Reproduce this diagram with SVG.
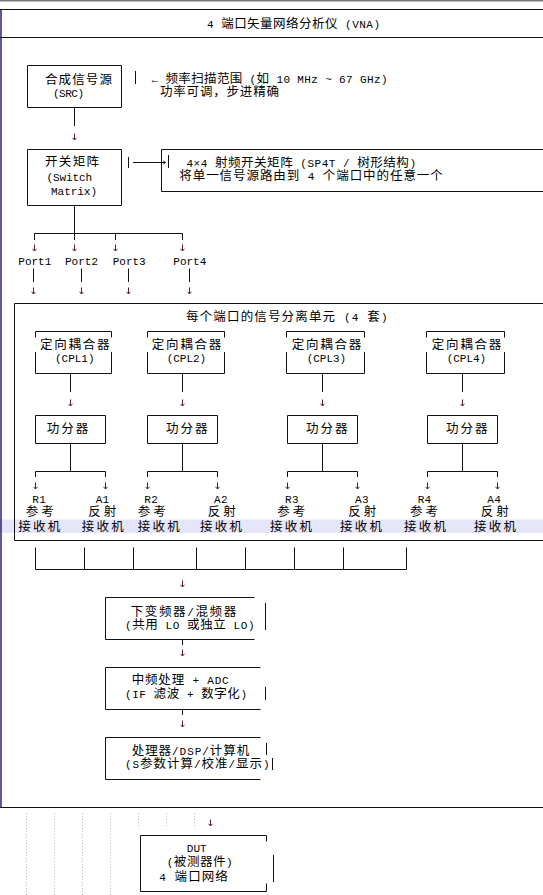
<svg xmlns="http://www.w3.org/2000/svg" width="543" height="895" viewBox="0 0 543 895">
<defs>
<style>
text{font-family:"Liberation Mono","Noto Sans CJK SC",monospace;font-size:11px;fill:#000}
.c{font-family:"Noto Sans CJK SC",sans-serif;font-size:12.5px}
.ln{stroke:#111;stroke-width:1;fill:none}
.ar{stroke:#5a1838;stroke-width:1;fill:none}
.guide{stroke:#bdbdbd;stroke-width:1;stroke-dasharray:1 2;fill:none}
</style>
<marker id="ah" markerUnits="userSpaceOnUse" markerWidth="6" markerHeight="6" refX="3" refY="3" orient="auto"><path d="M0.8,1 L3,3 L0.8,5" fill="none" stroke="#5a1838" stroke-width="1"/></marker>
<marker id="ahk" markerUnits="userSpaceOnUse" markerWidth="6" markerHeight="6" refX="3" refY="3" orient="auto"><path d="M0.8,1.5 L3,3 L0.8,4.5" fill="none" stroke="#111" stroke-width="1"/></marker>
</defs>
<rect x="0" y="0" width="543" height="1.5" fill="#7a7a7a"/>
<rect x="0" y="519.5" width="543" height="13.5" fill="#e6e6fa"/>
<g id="frame">
<path class="ln" d="M0,9.5 H543 M0,37.5 H543 M0,807.5 H543"/>
<path d="M1,9.5 V807.5" stroke="#2a1f80" stroke-width="1.5" fill="none"/>
<text x="207" y="27.5" textLength="173" lengthAdjust="spacing">4 <tspan class="c">端口矢量网络分析仪</tspan> (VNA)</text>
</g>
<g id="src">
<path class="ln" d="M27.5,65.5 H121.5 V107.5 H27.5 Z"/>
<text class="c" x="45" y="83.5" textLength="67" lengthAdjust="spacing">合成信号源</text>
<text x="53" y="96.5" textLength="31" lengthAdjust="spacing">(SRC)</text>
</g>
<g id="src-note">
<path class="ln" d="M135.5,71 V84"/>
<text x="151.5" y="83.3" textLength="236" lengthAdjust="spacing">← <tspan class="c">频率扫描范围</tspan> (<tspan class="c">如</tspan> 10 MHz ~ 67 GHz)</text>
<text class="c" x="160" y="96.3" textLength="119" lengthAdjust="spacing">功率可调，步进精确</text>
</g>
<g id="switch">
<path class="ln" d="M27.5,149.5 H121.5 V205.5 H27.5 Z"/>
<text class="c" x="45" y="166" textLength="54" lengthAdjust="spacing">开关矩阵</text>
<text x="46.5" y="180.5" textLength="45.5" lengthAdjust="spacing">(Switch</text>
<text x="51" y="194.5" textLength="46" lengthAdjust="spacing">Matrix)</text>
</g>
<g id="switch-note">
<path class="ln" d="M543,149.5 H161.5 V191.5 H543"/>
<path class="ln" d="M168.5,155 V168"/>
<text x="186.5" y="166.7" textLength="229.5" lengthAdjust="spacing">4×4 <tspan class="c">射频开关矩阵</tspan> (SP4T / <tspan class="c">树形结构</tspan>)</text>
<text x="179.3" y="180.2" textLength="263.5" lengthAdjust="spacing"><tspan class="c">将单一信号源路由到</tspan> 4 <tspan class="c">个端口中的任意一个</tspan></text>
</g>
<g id="ports">
<text x="18.3" y="264.7" textLength="33" lengthAdjust="spacing">Port1</text>
<text x="65" y="264.7" textLength="33" lengthAdjust="spacing">Port2</text>
<text x="112.7" y="264.7" textLength="33" lengthAdjust="spacing">Port3</text>
<text x="173.3" y="264.7" textLength="33" lengthAdjust="spacing">Port4</text>
</g>
<g id="sep-unit">
<path class="ln" d="M543,303.5 H14.5 V540.5 H543"/>
<text x="186" y="321" textLength="201.5" lengthAdjust="spacing"><tspan class="c">每个端口的信号分离单元</tspan> (4 <tspan class="c">套</tspan>)</text>
</g>
<g id="cpl1">
<path class="ln" d="M35.5,337.5 V331.5 H111.5 V337.5 M35.5,352 V373.5 H111.5 V352"/>
<text class="c" x="40" y="348.8" textLength="69.5" lengthAdjust="spacing">定向耦合器</text>
<text x="55" y="362.3" textLength="39.5" lengthAdjust="spacing">(CPL1)</text>
</g>
<g id="cpl2">
<path class="ln" d="M147.5,337.5 V331.5 H224.5 V337.5 M147.5,352 V373.5 H224.5 V352"/>
<text class="c" x="151.7" y="348.8" textLength="69.5" lengthAdjust="spacing">定向耦合器</text>
<text x="166.7" y="362.3" textLength="39.5" lengthAdjust="spacing">(CPL2)</text>
</g>
<g id="cpl3">
<path class="ln" d="M286.5,337.5 V331.5 H364.5 V337.5 M286.5,352 V373.5 H364.5 V352"/>
<text class="c" x="291.7" y="348.8" textLength="69.5" lengthAdjust="spacing">定向耦合器</text>
<text x="306.7" y="362.3" textLength="39.5" lengthAdjust="spacing">(CPL3)</text>
</g>
<g id="cpl4">
<path class="ln" d="M426.5,337.5 V331.5 H504.5 V337.5 M426.5,352 V373.5 H504.5 V352"/>
<text class="c" x="431.7" y="348.8" textLength="69.5" lengthAdjust="spacing">定向耦合器</text>
<text x="446.7" y="362.3" textLength="39.5" lengthAdjust="spacing">(CPL4)</text>
</g>
<g id="pd1">
<path class="ln" d="M35.5,415.5 H105.5 V443.5 H35.5 Z"/>
<text class="c" x="46.7" y="432.8" textLength="41.5" lengthAdjust="spacing">功分器</text>
</g>
<g id="pd2">
<path class="ln" d="M147.5,415.5 H217.5 V443.5 H147.5 Z"/>
<text class="c" x="166" y="432.8" textLength="41.5" lengthAdjust="spacing">功分器</text>
</g>
<g id="pd3">
<path class="ln" d="M287.5,415.5 H357.5 V443.5 H287.5 Z"/>
<text class="c" x="306" y="432.8" textLength="41.5" lengthAdjust="spacing">功分器</text>
</g>
<g id="pd4">
<path class="ln" d="M427.5,415.5 H497.5 V443.5 H427.5 Z"/>
<text class="c" x="446" y="432.8" textLength="41.5" lengthAdjust="spacing">功分器</text>
</g>
<g id="receivers">
<text x="32.3" y="502.7" textLength="13.5" lengthAdjust="spacing">R1</text>
<text x="95.7" y="502.7" textLength="13.5" lengthAdjust="spacing">A1</text>
<text x="144.3" y="502.7" textLength="13.5" lengthAdjust="spacing">R2</text>
<text x="214" y="502.7" textLength="13.5" lengthAdjust="spacing">A2</text>
<text x="285" y="502.7" textLength="13.5" lengthAdjust="spacing">R3</text>
<text x="355" y="502.7" textLength="13.5" lengthAdjust="spacing">A3</text>
<text x="417.7" y="502.7" textLength="13.5" lengthAdjust="spacing">R4</text>
<text x="487.3" y="502.7" textLength="13.5" lengthAdjust="spacing">A4</text>
<text class="c" x="25.7" y="516.2" textLength="28" lengthAdjust="spacing">参考</text>
<text class="c" x="88.3" y="516.2" textLength="28" lengthAdjust="spacing">反射</text>
<text class="c" x="137.7" y="516.2" textLength="28" lengthAdjust="spacing">参考</text>
<text class="c" x="207.7" y="516.2" textLength="28" lengthAdjust="spacing">反射</text>
<text class="c" x="277.3" y="516.2" textLength="28" lengthAdjust="spacing">参考</text>
<text class="c" x="348.3" y="516.2" textLength="28" lengthAdjust="spacing">反射</text>
<text class="c" x="410" y="516.2" textLength="28" lengthAdjust="spacing">参考</text>
<text class="c" x="480.7" y="516.2" textLength="28" lengthAdjust="spacing">反射</text>
<text class="c" x="18.3" y="530.5" textLength="42" lengthAdjust="spacing">接收机</text>
<text class="c" x="81.7" y="530.5" textLength="42" lengthAdjust="spacing">接收机</text>
<text class="c" x="137.7" y="530.5" textLength="42" lengthAdjust="spacing">接收机</text>
<text class="c" x="200" y="530.5" textLength="42" lengthAdjust="spacing">接收机</text>
<text class="c" x="270" y="530.5" textLength="42" lengthAdjust="spacing">接收机</text>
<text class="c" x="340" y="530.5" textLength="42" lengthAdjust="spacing">接收机</text>
<text class="c" x="404" y="530.5" textLength="42" lengthAdjust="spacing">接收机</text>
<text class="c" x="474" y="530.5" textLength="42" lengthAdjust="spacing">接收机</text>
</g>
<g id="downconv">
<path class="ln" d="M254.5,597.5 H105.5 V639.5 H254.5 M265.5,603 V630"/>
<text x="130.7" y="615.5" textLength="105.5" lengthAdjust="spacing"><tspan class="c">下变频器</tspan>/<tspan class="c">混频器</tspan></text>
<text x="125" y="628.6" textLength="129.5" lengthAdjust="spacing">(<tspan class="c">共用</tspan> LO <tspan class="c">或独立</tspan> LO)</text>
</g>
<g id="ifadc">
<path class="ln" d="M260.5,667.5 H105.5 V709.5 H260.5 M265.5,687 V700"/>
<text x="131.7" y="683.6" textLength="97" lengthAdjust="spacing"><tspan class="c">中频处理</tspan> + ADC</text>
<text x="125" y="698.3" textLength="122" lengthAdjust="spacing">(IF <tspan class="c">滤波</tspan> + <tspan class="c">数字化</tspan>)</text>
</g>
<g id="dsp">
<path class="ln" d="M260.5,737.5 H105.5 V779.5 H260.5 M266.5,743 V755 M272.5,758 V770"/>
<text x="131.7" y="755" textLength="117.5" lengthAdjust="spacing"><tspan class="c">处理器</tspan>/DSP/<tspan class="c">计算机</tspan></text>
<text x="125" y="767.6" textLength="144.5" lengthAdjust="spacing">(S<tspan class="c">参数计算</tspan>/<tspan class="c">校准</tspan>/<tspan class="c">显示</tspan>)</text>
</g>
<g id="dut">
<path class="ln" d="M266.5,841.5 V835.5 H140.5 V891.5 H266.5 V883.5 M273.5,855 V882"/>
<text x="186.7" y="852.3" textLength="20" lengthAdjust="spacing">DUT</text>
<text x="166.7" y="866" textLength="66" lengthAdjust="spacing">(<tspan class="c">被测器件</tspan>)</text>
<text x="159.3" y="881" textLength="68.5" lengthAdjust="spacing">4 <tspan class="c">端口网络</tspan></text>
</g>
<g id="guides">
<path class="guide" d="M26.5,813 V895 M54.5,813 V895 M82.5,813 V895 M110.5,813 V895 M138.5,813 V827 M166.5,813 V827 M194.5,813 V827"/>
</g>
<g id="connectors">
<path class="ln" d="M74.5,107.5 V126 M74.5,205.5 V233.5 M34.5,240 V233.5 H182.5 V240 M74.5,233.5 V240 M115.5,233.5 V240"/>
<path class="ln" d="M33.5,268.5 V282 M81.5,268.5 V282 M128.5,268.5 V282 M189.5,268.5 V282"/>
<path class="ln" d="M128.5,157 V168"/>
<path class="ln" d="M133,162.5 H165.5" marker-end="url(#ahk)"/>
<path class="ln" d="M70.5,373.5 V392 M182.5,373.5 V392 M322.5,373.5 V392 M462.5,373.5 V392"/>
<path class="ln" d="M70.5,443.5 V471.5 M35.5,477 V471.5 H105.5 V477 M182.5,443.5 V471.5 M147.5,477 V471.5 H217.5 V477 M322.5,443.5 V471.5 M287.5,477 V471.5 H357.5 V477 M462.5,443.5 V471.5 M427.5,477 V471.5 H497.5 V477"/>
<path class="ln" d="M35.5,547.5 V569.5 H406.5 V547.5 M84.5,547.5 V569.5 M133.5,547.5 V569.5 M196.5,547.5 V569.5 M245.5,547.5 V569.5 M294.5,547.5 V569.5 M343.5,547.5 V569.5"/>
<path class="ln" d="M182.5,639.5 V645 M182.5,709.5 V715"/>
<g class="ar">
<path d="M74.5,133.5 V140" marker-end="url(#ah)"/>
<path d="M34.5,244.5 V251" marker-end="url(#ah)"/>
<path d="M74.5,244.5 V251" marker-end="url(#ah)"/>
<path d="M115.5,244.5 V251" marker-end="url(#ah)"/>
<path d="M182.5,244.5 V251" marker-end="url(#ah)"/>
<path d="M33.5,287.5 V294" marker-end="url(#ah)"/>
<path d="M81.5,287.5 V294" marker-end="url(#ah)"/>
<path d="M128.5,287.5 V294" marker-end="url(#ah)"/>
<path d="M189.5,287.5 V294" marker-end="url(#ah)"/>
<path d="M70.5,399.5 V406" marker-end="url(#ah)"/>
<path d="M182.5,399.5 V406" marker-end="url(#ah)"/>
<path d="M322.5,399.5 V406" marker-end="url(#ah)"/>
<path d="M462.5,399.5 V406" marker-end="url(#ah)"/>
<path d="M35.5,482.5 V489" marker-end="url(#ah)"/>
<path d="M105.5,482.5 V489" marker-end="url(#ah)"/>
<path d="M147.5,482.5 V489" marker-end="url(#ah)"/>
<path d="M217.5,482.5 V489" marker-end="url(#ah)"/>
<path d="M287.5,482.5 V489" marker-end="url(#ah)"/>
<path d="M357.5,482.5 V489" marker-end="url(#ah)"/>
<path d="M427.5,482.5 V489" marker-end="url(#ah)"/>
<path d="M497.5,482.5 V489" marker-end="url(#ah)"/>
<path d="M182.5,580.5 V587" marker-end="url(#ah)"/>
<path d="M182.5,649.5 V656" marker-end="url(#ah)"/>
<path d="M182.5,720.5 V727" marker-end="url(#ah)"/>
<path d="M210.5,819.5 V826" marker-end="url(#ah)"/>
</g>
</g>
</svg>
